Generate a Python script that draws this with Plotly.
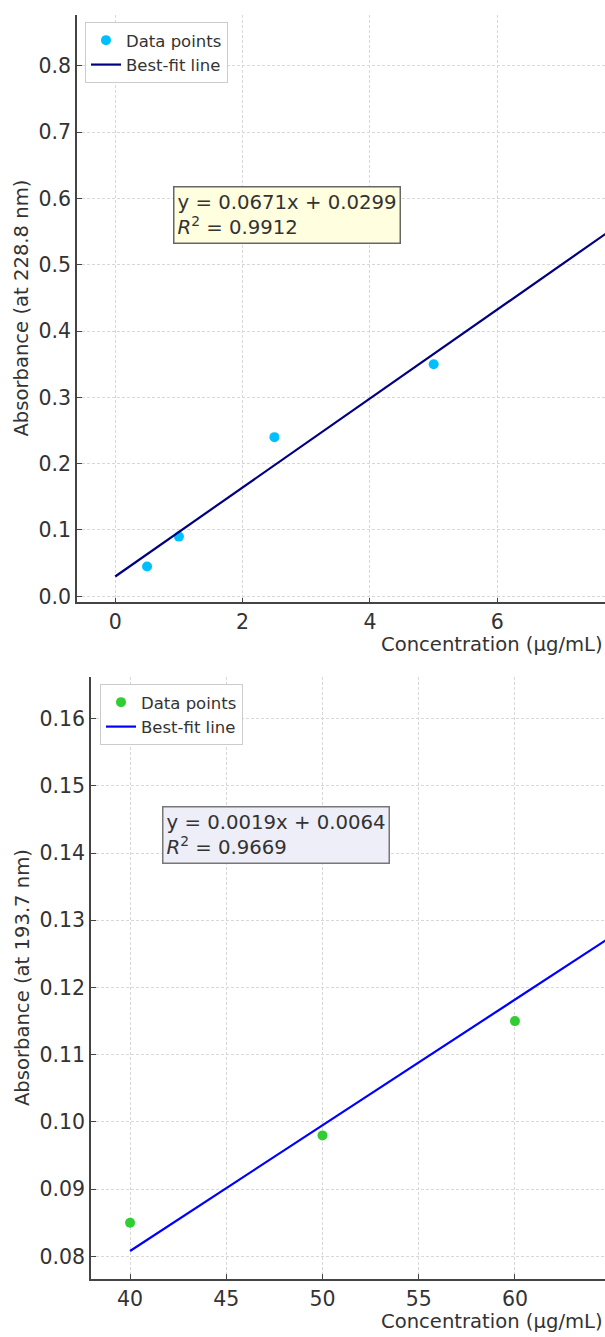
import plotly.graph_objects as go

# ---- data ----
conc1 = [0.5, 1.0, 2.5, 5.0]
abs1 = [0.045, 0.09, 0.24, 0.35]
fit1_slope = 0.0671
fit1_intercept = 0.0299
fit1_x = [0.0, 10.0]
eq1_text = "y = 0.0671x + 0.0299<br><i>R</i><sup>2</sup> = 0.9912"

conc2 = [40, 50, 60]
abs2 = [0.085, 0.098, 0.115]
fit2_slope = 0.00187
fit2_intercept = 0.0060
fit2_x = [40.0, 70.0]
eq2_text = "y = 0.0019x + 0.0064<br><i>R</i><sup>2</sup> = 0.9669"

xticks1 = [0, 2, 4, 6]
yticks1 = [0.0, 0.1, 0.2, 0.3, 0.4, 0.5, 0.6, 0.7, 0.8]
xticks2 = [40, 45, 50, 55, 60, 65]
yticks2 = [0.08, 0.09, 0.10, 0.11, 0.12, 0.13, 0.14, 0.15, 0.16]

W, H = 605, 1337
FONT = "DejaVu Sans"
TXT = "#333333"

fit1_y = [fit1_slope * x + fit1_intercept for x in fit1_x]
fit2_y = [fit2_slope * x + fit2_intercept for x in fit2_x]

fig = go.Figure()
fig.add_trace(go.Scatter(x=conc1, y=abs1, mode="markers", name="Data points",
                         marker=dict(color="#00BFFF", size=10), xaxis="x", yaxis="y",
                         legend="legend"))
fig.add_trace(go.Scatter(x=fit1_x, y=fit1_y, mode="lines", name="Best-fit line",
                         line=dict(color="#000080", width=2.2), xaxis="x", yaxis="y",
                         legend="legend"))
fig.add_trace(go.Scatter(x=conc2, y=abs2, mode="markers", name="Data points",
                         marker=dict(color="#32CD32", size=10), xaxis="x2", yaxis="y2",
                         legend="legend2"))
fig.add_trace(go.Scatter(x=fit2_x, y=fit2_y, mode="lines", name="Best-fit line",
                         line=dict(color="#0000FF", width=2.2), xaxis="x2", yaxis="y2",
                         legend="legend2"))

def py(px):
    return 1 - px / H

def px_x(px):
    return px / W

axis_common = dict(showline=True, linecolor="#444444", linewidth=1.5, mirror=False,
                   showgrid=True, gridcolor="#d8d8d8", griddash="3px,2px", gridwidth=1,
                   ticks="inside", ticklen=5, tickcolor="#444444", tickwidth=1,
                   zeroline=False, tickfont=dict(family=FONT, size=20.5, color=TXT))

d1_top, d1_bot = 15, 605
d2_top, d2_bot = 680, 1285

legend_common = dict(xanchor="left", yanchor="top", bgcolor="white",
                     bordercolor="#cccccc", borderwidth=1,
                     font=dict(family=FONT, size=16.5, color=TXT), tracegroupgap=0,
                     itemwidth=30)

fig.update_layout(
    width=W, height=H, margin=dict(l=0, r=0, t=0, b=0),
    paper_bgcolor="white", plot_bgcolor="white",
    font=dict(family=FONT, color=TXT),
    xaxis=dict(domain=[px_x(77), 1], range=[-0.6, 7.69], tickvals=xticks1,
               anchor="y", **axis_common),
    yaxis=dict(domain=[py(d1_bot), py(d1_top)], range=[-0.009, 0.8766],
               tickvals=yticks1, tickformat=".1f", anchor="x", **axis_common),
    xaxis2=dict(domain=[px_x(91), 1], range=[37.97, 64.68], tickvals=xticks2,
                anchor="y2", **axis_common),
    yaxis2=dict(domain=[py(d2_bot), py(d2_top)], range=[0.0766, 0.1662],
                tickvals=yticks2, tickformat=".2f", anchor="x2", **axis_common),
    legend=dict(x=px_x(85), y=py(22), **legend_common),
    legend2=dict(x=px_x(100), y=py(687), **legend_common),
    showlegend=True,
)

ann = []
# equation boxes
ann.append(dict(text=eq1_text, xref="paper", yref="paper", x=px_x(173), y=py(187),
                xanchor="left", yanchor="top", align="left", showarrow=False,
                bgcolor="#FFFFE0", bordercolor="#666666", borderwidth=1.5, borderpad=3,
                font=dict(family=FONT, size=19.7, color=TXT)))
ann.append(dict(text=eq2_text, xref="paper", yref="paper", x=px_x(162), y=py(810),
                xanchor="left", yanchor="top", align="left", showarrow=False,
                bgcolor="#EEEEF8", bordercolor="#777777", borderwidth=1.5, borderpad=3,
                font=dict(family=FONT, size=19.7, color=TXT)))
# axis titles
ann.append(dict(text="Absorbance (at 228.8 nm)", xref="paper", yref="paper",
                x=px_x(22), y=py((d1_top + d1_bot) / 2), xanchor="center", yanchor="middle",
                textangle=-90, showarrow=False, font=dict(family=FONT, size=19.6, color=TXT)))
ann.append(dict(text="Absorbance (at 193.7 nm)", xref="paper", yref="paper",
                x=px_x(22), y=py((d2_top + d2_bot) / 2), xanchor="center", yanchor="middle",
                textangle=-90, showarrow=False, font=dict(family=FONT, size=19.6, color=TXT)))
ann.append(dict(text="Concentration (µg/mL)", xref="paper", yref="paper",
                x=1, y=py(647), xanchor="right", yanchor="middle",
                showarrow=False, font=dict(family=FONT, size=19.6, color=TXT)))
ann.append(dict(text="Concentration (µg/mL)", xref="paper", yref="paper",
                x=1, y=py(1327), xanchor="right", yanchor="middle",
                showarrow=False, font=dict(family=FONT, size=19.6, color=TXT)))
fig.update_layout(annotations=ann)

fig.write_html("out.html")
